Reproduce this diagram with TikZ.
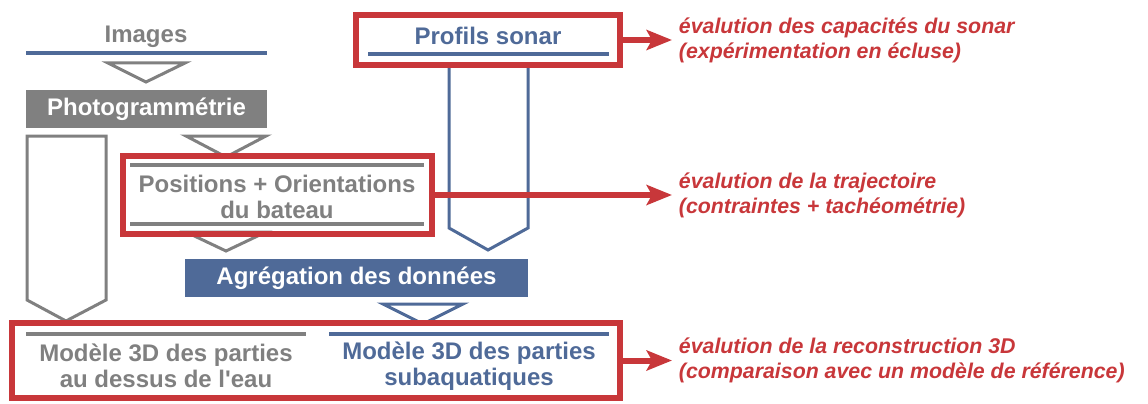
\documentclass[tikz,border=0pt]{standalone}
\usepackage{fontspec}
\setmainfont{Liberation Sans}[Ligatures=TeXOff]
\usepackage{tikz}
\usetikzlibrary{arrows.meta, positioning, fit}
\definecolor{mygray}{RGB}{128,128,128}
\definecolor{myblue}{RGB}{79,106,152}
\definecolor{myred}{RGB}{200,55,58}
\tikzset{
  graybar/.style={rectangle, fill=mygray, text=white, inner sep=0pt,
    minimum height=28.5pt, font=\fontsize{18}{20}\selectfont\bfseries},
  bluebar/.style={rectangle, fill=myblue, text=white, inner sep=0pt,
    minimum height=28.5pt, font=\fontsize{18}{20}\selectfont\bfseries},
  redframe/.style={rectangle, draw=myred, line width=4.5pt, inner sep=0pt},
  graychev/.style={draw=mygray, fill=white, line width=2.25pt, line join=miter},
  bluechev/.style={draw=myblue, fill=white, line width=2.25pt, line join=miter},
  grayline/.style={draw=mygray, line width=3pt},
  blueline/.style={draw=myblue, line width=3pt},
  graytext/.style={text=mygray, align=center, inner sep=0pt,
    font=\fontsize{18}{19.5}\selectfont\bfseries},
  bluetext/.style={text=myblue, align=center, inner sep=0pt,
    font=\fontsize{18}{19.5}\selectfont\bfseries},
  evaltext/.style={text=myred, align=left, anchor=west, inner sep=5pt,
    font=\fontsize{16}{18.75}\selectfont\bfseries\itshape},
  redarrow/.style={-{Stealth[length=19pt, width=15pt, inset=4pt]},
    draw=myred, line width=4.5pt}
}

\begin{document}
\begin{tikzpicture}[x=0.75pt, y=-0.75pt]
  \useasboundingbox (0,0) rectangle (1148,403);
  % chevrons (drawn first, frames cover their ends)
  \draw[graychev] (108,63) -- (185,63) -- (146,82) -- cycle;
  \draw[graychev] (186,136) -- (266,136) -- (226,157) -- cycle;
  \draw[graychev] (186,232) -- (266,232) -- (226,251) -- cycle;
  \draw[bluechev] (383,304) -- (463,304) -- (423,324) -- cycle;
  \draw[graychev] (27,136) -- (106,136) -- (106,300) -- (66,321) -- (27,300) -- cycle;
  \draw[bluechev] (449,64) -- (528,64) -- (528,228) -- (488,250) -- (449,228) -- cycle;
  % left column
  \node[graytext] (images) at (146,37) {Images};
  \draw[blueline] (26,53) -- (267,53);
  \node[graybar, minimum width=180.75pt] (photo) at (146.5,109) {Photogrammétrie};
  % sonar
  \node[bluetext] (sonar) at (488,36) {Profils sonar};
  \draw[blueline] (368,54) -- (609,54);
  \node[redframe, fit={(356,15) (620,65)}] (sonarframe) {};
  % positions
  \draw[grayline] (130,165) -- (424,165);
  \node[graytext] (positions) at (277,197) {Positions + Orientations\\du bateau};
  \draw[grayline] (130,224) -- (424,224);
  \node[redframe, fit={(123,156) (432,234)}] (posframe) {};
  % aggregation
  \node[bluebar, minimum width=257.25pt] (aggreg) at (356.5,278) {Agrégation des données};
  % models
  \draw[grayline] (26,334) -- (306,334);
  \draw[blueline] (329,334) -- (609,334);
  \node[graytext] (modelair) at (166,366) {Modèle 3D des parties\\au dessus de l'eau};
  \node[bluetext] (modelsub) at (469,366) {Modèle 3D des parties\\subaquatiques};
  \node[redframe, fit={(12,323) (620,398)}] (modelframe) {};
  % evaluations
  \node[evaltext] (evalsonar) at (672,40) {évalution des capacités du sonar\\(expérimentation en écluse)};
  \node[evaltext] (evaltraj) at (672,195) {évalution de la trajectoire\\(contraintes + tachéométrie)};
  \node[evaltext] (evalmodel) at (672,360.5) {évalution de la reconstruction 3D\\(comparaison avec un modèle de référence)};
  \draw[redarrow] (sonarframe.east) -- (evalsonar.west);
  \draw[redarrow] (posframe.east) -- (evaltraj.west);
  \draw[redarrow] (modelframe.east) -- (evalmodel.west);
\end{tikzpicture}
\end{document}
